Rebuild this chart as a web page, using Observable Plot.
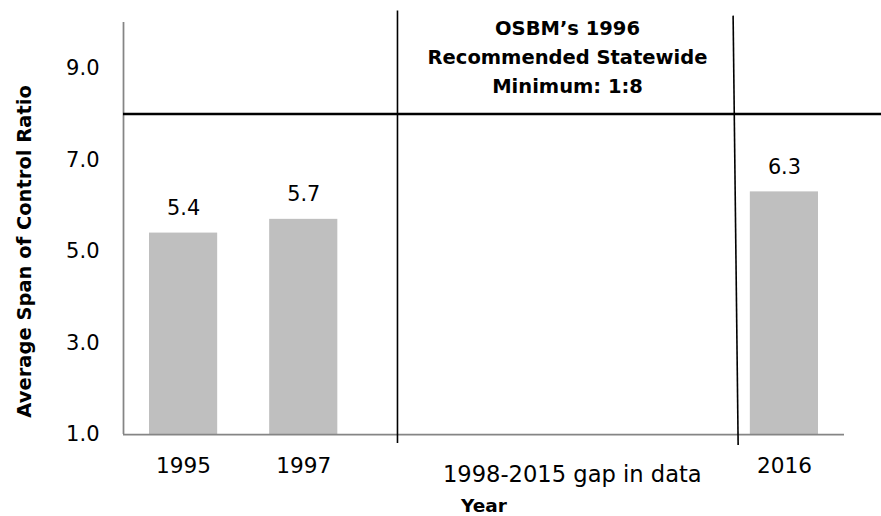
<!DOCTYPE html>
<html>
<head>
<meta charset="utf-8">
<script src="https://cdn.jsdelivr.net/npm/d3@7"></script>
<script src="https://cdn.jsdelivr.net/npm/@observablehq/plot@0.6"></script>
<style>
  html, body { margin: 0; padding: 0; background: #fff; }
  #chart svg { display: block; }
</style>
</head>
<body>
<div id="chart"></div>
<script>
// Average span of control, by year (slots 0–5 along x; slots 2–4 cover the 1998–2015 gap)
const years = ["1995", "1997", "2016"];
const slots = [0, 1, 5];
const ratios = [5.4, 5.7, 6.3];

const yTicks = [1, 3, 5, 7, 9];
const recommendedMinimum = 8;

// Divider lines marking the gap in the data (x in slots, y in ratio units)
const dividerX1 = [2.28, 5.073];
const dividerX2 = [2.28, 5.115];
const dividerYTop = [10.26, 10.15];
const dividerYBottom = [0.815, 0.77];

const recommendationText = "OSBM’s 1996\nRecommended Statewide\nMinimum: 1:8";
const gapText = "1998-2015 gap in data";

const bars = years.map((year, i) => ({year, slot: slots[i], ratio: ratios[i]}));
const dividers = dividerX1.map((x1, i) => ({
  x1, x2: dividerX2[i], y1: dividerYTop[i], y2: dividerYBottom[i]
}));

const font = "'DejaVu Sans', sans-serif";

const chart = Plot.plot({
  width: 881,
  height: 516,
  marginLeft: 123,
  marginRight: 37,
  marginTop: 22,
  marginBottom: 82,
  style: {fontFamily: font, fontSize: "21px", color: "#000", background: "#fff"},
  x: {domain: [0, 6], axis: null},
  y: {domain: [1, 10], axis: null},
  marks: [
    // bars, inset inside each slot
    Plot.rect(bars, {
      x1: "slot",
      x2: (d) => d.slot + 1,
      y1: 1,
      y2: "ratio",
      insetLeft: 26,
      insetRight: 26,
      fill: "#bfbfbf"
    }),
    // value labels
    Plot.text(bars, {
      x: (d) => d.slot + 0.5,
      y: "ratio",
      text: (d) => d.ratio.toFixed(1),
      lineAnchor: "bottom",
      dy: -18,
      fontSize: 20.8,
      fill: "#000"
    }),
    // y axis
    Plot.axisY(yTicks, {
      tickSize: 0,
      tickPadding: 24,
      tickFormat: (d) => d.toFixed(1),
      fontSize: 21,
      label: null
    }),
    // x axis year labels
    Plot.axisX(slots.map((s) => s + 0.5), {
      tickSize: 0,
      tickPadding: 23,
      tickFormat: (d) => years[slots.indexOf(d - 0.5)],
      fontSize: 21.6,
      label: null
    }),
    // axis lines
    Plot.ruleX([0], {y1: 1, y2: 10, stroke: "#858585", strokeWidth: 1.75}),
    Plot.ruleY([1], {x1: 0, x2: 6, stroke: "#858585", strokeWidth: 1.75}),
    // recommended minimum line
    Plot.ruleY([recommendedMinimum], {x1: 0, x2: 6.31, stroke: "#000", strokeWidth: 2.6, clip: false}),
    // gap dividers
    Plot.link(dividers, {x1: "x1", y1: "y1", x2: "x2", y2: "y2", stroke: "#000", strokeWidth: 1.6, clip: false}),
    // recommendation annotation
    Plot.text([recommendationText], {
      x: 3.695,
      y: 8.45,
      text: (d) => d,
      lineAnchor: "bottom",
      lineHeight: 1.5,
      fontWeight: "bold",
      fontSize: 19.5,
      fill: "#000"
    }),
    // gap annotation
    Plot.text([gapText], {
      x: 3.735,
      y: 1,
      text: (d) => d,
      lineAnchor: "bottom",
      dy: 47.5,
      fontSize: 22.6,
      fill: "#000"
    }),
    // axis titles
    Plot.text(["Year"], {
      x: 3,
      y: 1,
      text: (d) => d,
      lineAnchor: "bottom",
      dy: 77.5,
      fontWeight: "bold",
      fontSize: 18.5,
      fill: "#000"
    }),
    Plot.text(["Average Span of Control Ratio"], {
      x: 0,
      y: 5.0,
      text: (d) => d,
      rotate: -90,
      lineAnchor: "bottom",
      dx: -93,
      fontWeight: "bold",
      fontSize: 19.5,
      fill: "#000"
    })
  ]
});

document.getElementById("chart").appendChild(chart);
</script>
</body>
</html>
